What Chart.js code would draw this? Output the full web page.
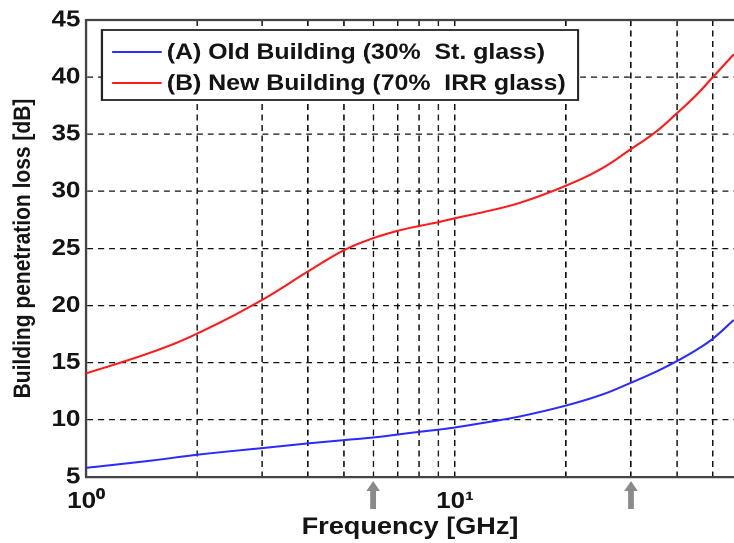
<!DOCTYPE html>
<html><head><meta charset="utf-8">
<script src="https://cdn.jsdelivr.net/npm/chart.js@4.4.1/dist/chart.umd.min.js"></script>
<style>
html,body{margin:0;padding:0;background:#fff;overflow:hidden;width:734px;height:543px;}
#wrap{position:absolute;left:0;top:0;width:650px;height:543px;transform:scaleX(1.12923);transform-origin:0 0;}
</style></head><body>
<div id="wrap"><canvas id="c" width="650" height="543"></canvas></div>
<script>
// ---- data ----
const frequencies = [1, 1.5, 2, 3, 4, 5, 6, 7, 8, 9, 10, 12, 15, 20, 25, 30, 35, 40, 45, 50, 57];
const oldBuilding = [5.8, 6.43, 6.95, 7.53, 7.94, 8.23, 8.46, 8.72, 8.95, 9.14, 9.33, 9.75, 10.3, 11.25, 12.2, 13.25, 14.2, 15.15, 16.1, 17.1, 18.75];
const newBuilding = [14.07, 15.9, 17.55, 20.5, 23.0, 24.85, 25.9, 26.55, 26.97, 27.3, 27.65, 28.2, 29.0, 30.5, 32.0, 33.7, 35.2, 36.85, 38.4, 40.0, 42.0];
const seriesLabels = ['(A) Old Building (30%  St. glass)', '(B) New Building (70%  IRR glass)'];
const seriesColors = ['#2b2bff', '#ff1a1a'];
const xGridValues = [1, 2, 3, 4, 5, 6, 7, 8, 9, 10, 20, 30, 40, 50];
const xTickLabels = {1: '10\u2070', 10: '10\u00B9'};
const yTickValues = [5, 10, 15, 20, 25, 30, 35, 40, 45];
const arrowFreqs = [6, 30];
const xRange = [1, 57.07];
const yRange = [5, 45];
const xTitle = 'Frequency [GHz]';
const yTitle = 'Building penetration loss [dB]';

const FONT = "'Liberation Sans', Arial, sans-serif";
const TXT = '#141414';

const extras = {
  id: 'extras',
  afterDraw(chart) {
    const ctx = chart.ctx, a = chart.chartArea, xs = chart.scales.x;
    ctx.save();
    // top box line
    ctx.strokeStyle = '#444'; ctx.lineWidth = 2.2; ctx.setLineDash([]);
    ctx.beginPath(); ctx.moveTo(a.left, a.top); ctx.lineTo(a.right, a.top); ctx.stroke();
    // legend
    ctx.font = 'bold 22px ' + FONT;
    let tw = 0;
    seriesLabels.forEach(l => { tw = Math.max(tw, ctx.measureText(l).width); });
    const bx = a.left + 14, by = a.top + 10, bw = 9 + 44 + 4.5 + tw + 11, bh = 70;
    ctx.fillStyle = '#fff'; ctx.fillRect(bx, by, bw, bh);
    ctx.strokeStyle = '#222'; ctx.lineWidth = 1.8; ctx.strokeRect(bx, by, bw, bh);
    seriesLabels.forEach((l, i) => {
      const cy = by + 22 + i * 31;
      ctx.strokeStyle = seriesColors[i]; ctx.lineWidth = 2;
      ctx.beginPath(); ctx.moveTo(bx + 9, cy); ctx.lineTo(bx + 53, cy); ctx.stroke();
      ctx.fillStyle = TXT; ctx.textAlign = 'left'; ctx.textBaseline = 'middle';
      ctx.fillText(l, bx + 57.5, cy + 1);
    });
    // arrows below axis
    ctx.fillStyle = '#8a8a8a';
    arrowFreqs.forEach(f => {
      const x = xs.getPixelForValue(f);
      const yt = a.bottom + 4, yb = yt + 10, ye = yt + 28;
      ctx.beginPath();
      ctx.moveTo(x, yt); ctx.lineTo(x + 6, yb); ctx.lineTo(x + 2.6, yb);
      ctx.lineTo(x + 2.6, ye); ctx.lineTo(x - 2.6, ye); ctx.lineTo(x - 2.6, yb);
      ctx.lineTo(x - 6, yb); ctx.closePath(); ctx.fill();
    });
    ctx.restore();
  }
};

new Chart(document.getElementById('c'), {
  type: 'line',
  data: {
    datasets: [
      { label: seriesLabels[0], data: frequencies.map((f, i) => ({x: f, y: oldBuilding[i]})),
        borderColor: seriesColors[0], borderWidth: 2, pointRadius: 0, tension: 0.4, fill: false },
      { label: seriesLabels[1], data: frequencies.map((f, i) => ({x: f, y: newBuilding[i]})),
        borderColor: seriesColors[1], borderWidth: 2, pointRadius: 0, tension: 0.4, fill: false }
    ]
  },
  options: {
    responsive: false,
    animation: false,
    devicePixelRatio: 2,
    layout: { padding: { top: 20, right: 0, left: 0, bottom: 0 } },
    plugins: { legend: { display: false }, tooltip: { enabled: false } },
    scales: {
      x: {
        type: 'logarithmic', min: xRange[0], max: xRange[1],
        afterBuildTicks: s => { s.ticks = xGridValues.map(v => ({value: v})); },
        afterFit: s => { s.height = 66; },
        grid: { color: '#111', lineWidth: 1.3, drawTicks: false },
        border: { display: true, color: '#444', width: 2.2, dash: [6, 4.5] },
        ticks: { autoSkip: false, maxRotation: 0, minRotation: 0, padding: 11, color: TXT,
          font: { family: FONT, size: 23, weight: 'bold' },
          callback: v => xTickLabels[v] || '' },
        title: { display: true, text: xTitle, color: TXT, font: { family: FONT, size: 24, weight: 'bold' },
          padding: { top: 0, bottom: 1 } }
      },
      y: {
        type: 'linear', min: yRange[0], max: yRange[1],
        afterBuildTicks: s => { s.ticks = yTickValues.map(v => ({value: v})); },
        afterFit: s => { s.width = 76.2; },
        grid: { color: '#111', lineWidth: 1.3, drawTicks: false },
        border: { display: true, color: '#444', width: 2.2, dash: [5.3, 4.4] },
        ticks: { padding: 5, color: TXT, font: { family: FONT, size: 23, weight: 'bold' } },
        title: { display: true, text: yTitle, color: TXT, font: { family: FONT, size: 21, weight: 'bold' },
          padding: { top: 8, bottom: 0 } }
      }
    }
  },
  plugins: [extras]
});
</script>
</body></html>
